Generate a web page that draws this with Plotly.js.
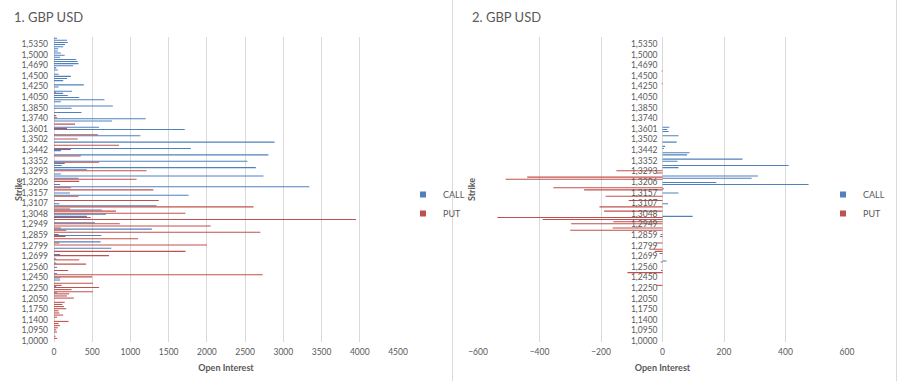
<!DOCTYPE html>
<html>
<head>
<meta charset="utf-8">
<script src="https://cdn.plot.ly/plotly-3.0.1.min.js"></script>
<style>html,body{margin:0;padding:0;background:#fff;}#chart{width:900px;height:381px;}</style>
</head>
<body>
<div id="chart"></div>
<script>
// Strike categories (bottom to top)
const strikes = [
'1,0000','1,0200','1,0400','1,0600','1,0800','1,0950',
'1,1050','1,1150','1,1250','1,1300','1,1400',
'1,1450','1,1500','1,1600','1,1700','1,1750',
'1,1800','1,1850','1,1900','1,2000','1,2050',
'1,2100','1,2150','1,2175','1,2200','1,2250',
'1,2300','1,2350','1,2400','1,2425','1,2450',
'1,2475','1,2500','1,2525','1,2550','1,2560',
'1,2600','1,2625','1,2650','1,2675','1,2699',
'1,2700','1,2725','1,2750','1,2775','1,2799',
'1,2800','1,2825','1,2840','1,2850','1,2859',
'1,2875','1,2900','1,2925','1,2940','1,2949',
'1,2950','1,2975','1,3000','1,3025','1,3048',
'1,3050','1,3060','1,3075','1,3100','1,3107',
'1,3125','1,3130','1,3140','1,3150','1,3157',
'1,3175','1,3180','1,3190','1,3200','1,3206',
'1,3225','1,3250','1,3260','1,3275','1,3293',
'1,3300','1,3310','1,3325','1,3350','1,3352',
'1,3375','1,3400','1,3410','1,3425','1,3442',
'1,3450','1,3460','1,3475','1,3500','1,3502',
'1,3525','1,3550','1,3575','1,3600','1,3601',
'1,3625','1,3650','1,3675','1,3700','1,3740',
'1,3750','1,3775','1,3800','1,3825','1,3850',
'1,3875','1,3900','1,3950','1,4000','1,4050',
'1,4075','1,4100','1,4150','1,4200','1,4250',
'1,4300','1,4350','1,4400','1,4450','1,4500',
'1,4550','1,4600','1,4625','1,4650','1,4690',
'1,4700','1,4750','1,4800','1,4900','1,5000',
'1,5050','1,5100','1,5150','1,5250','1,5350',
'1,5400','1,5500','1,6000'
];

// Strike labels shown on the axis
const strikeLabels = ['1,0000','1,0950','1,1400','1,1750','1,2050','1,2250','1,2450','1,2560','1,2699','1,2799','1,2859','1,2949','1,3048','1,3107','1,3157','1,3206','1,3293','1,3352','1,3442','1,3502','1,3601','1,3740','1,3850','1,4050','1,4250','1,4500','1,4690','1,5000','1,5350'];

// Chart 1: open interest
const call1 = [
0,0,0,0,0,0,0,0,0,0,
0,0,0,0,0,0,0,0,0,0,
0,0,0,40,0,0,30,0,0,80,
80,0,40,0,0,40,0,30,0,30,
0,80,0,0,750,0,0,610,0,0,
620,0,0,1280,0,0,535,0,0,430,
680,0,625,0,1340,70,0,0,0,1760,
210,0,0,3340,80,0,0,320,2740,90,
0,430,2640,100,140,2530,0,0,2805,0,
90,1790,0,0,2885,0,0,1130,0,0,
1710,590,0,0,760,1200,0,0,360,0,
230,770,0,90,660,330,180,120,235,0,
60,390,0,120,170,220,60,0,50,30,
250,320,310,290,80,140,90,50,55,120,
145,180,170,40
];
const put1 = [
0,40,20,0,40,30,50,80,60,190,
0,40,120,70,60,160,130,110,140,0,
260,170,200,510,230,590,100,510,0,0,
500,2730,0,185,0,0,420,0,330,0,
720,0,1720,0,0,2000,70,0,1100,150,
60,2700,160,90,2050,860,0,3950,480,0,
1720,810,210,2610,0,0,1370,0,320,0,
0,1300,220,0,0,330,1080,0,0,0,
1210,0,0,0,590,0,0,350,0,0,
220,0,850,0,0,310,0,575,0,0,
170,0,275,0,0,40,30,0,0,0,
0,0,0,0,0,0,0,25,0,0,
0,0,0,0,0,0,0,0,0,0,
0,0,0,0,0,0,0,0,0,0,
0,0,0,0
];

// Chart 2: change in open interest
const call2 = [
0,0,0,0,0,0,0,0,0,0,
0,0,0,0,0,0,0,0,0,0,
0,0,0,0,0,0,0,0,0,0,
0,0,0,0,0,0,0,0,13,0,
0,0,0,0,0,0,0,0,0,0,
0,0,0,0,0,0,0,0,0,98,
0,0,0,0,0,18,0,0,0,0,
52,0,5,0,475,175,0,290,310,0,
0,0,52,410,0,49,260,0,80,88,
0,5,8,0,46,0,0,52,0,20,
15,22,0,0,0,0,0,0,0,0,
0,0,0,0,0,0,0,0,0,0,
0,0,0,0,0,0,0,0,0,0,
0,0,0,0,0,0,0,0,0,0,
0,0,0,0
];
const put2 = [
0,0,0,0,0,0,0,0,0,0,
0,0,0,0,0,0,0,0,0,0,
0,0,0,0,0,0,-20,0,0,0,
0,0,-114,-5,0,0,0,-6,0,0,
0,-10,-25,-42,0,0,-23,0,0,-8,
-6,0,-300,-162,0,-297,-160,-390,-537,0,
0,-190,0,-205,0,0,-110,0,-185,0,
0,-255,-355,0,0,0,-510,-440,0,-20,
-150,0,0,0,0,0,0,0,0,0,
0,0,0,0,0,0,0,0,0,0,
0,0,0,0,0,0,0,0,0,0,
0,0,0,0,0,0,0,0,0,0,
0,-3,0,0,0,0,0,-3,0,0,
0,0,0,0,0,0,0,0,0,0,
0,0,0,0
];

const FONT = 'Lato, "Open Sans", sans-serif';
const TXT = '#595959';
const BLUE = '#4F81BD';
const RED = '#C0504D';
const GRID = '#d9d9d9';

function bar(x, name, color, xa, ya) {
  return {type:'bar', orientation:'h', x:x, y:strikes, name:name,
    xaxis:xa, yaxis:ya, showlegend:false,
    marker:{color:color, line:{color:color, width:0}}, hoverinfo:'x+y'};
}
// legend keys (small squares like the original legend)
function key(name, color, xa, ya, leg) {
  return {type:'scatter', mode:'markers', x:[null], y:[null], name:name,
    xaxis:xa, yaxis:ya, legend:leg, showlegend:true,
    marker:{symbol:'square', size:6, color:color}, hoverinfo:'skip'};
}

const data = [
  bar(call1,'CALL',BLUE,'x','y'),
  bar(put1,'PUT',RED,'x','y'),
  bar(call2,'CALL',BLUE,'x2','y2'),
  bar(put2,'PUT',RED,'x2','y2'),
  key('CALL',BLUE,'x','y','legend'),
  key('PUT',RED,'x','y','legend'),
  key('CALL',BLUE,'x2','y2','legend2'),
  key('PUT',RED,'x2','y2','legend2')
];

const yDom = [1-342.1/381, 1-36.6/381];
const tickF = {family:FONT, size:8.5, color:TXT};
const axTitleF = {family:FONT, size:9, color:TXT};

const layout = {
  width:900, height:381,
  margin:{l:0,r:0,t:0,b:0},
  paper_bgcolor:'#fff', plot_bgcolor:'rgba(0,0,0,0)',
  font:{family:FONT, color:TXT},
  barmode:'group', bargap:0.0001, bargroupgap:0,
  xaxis:{domain:[54/900, 398/900], anchor:'y', range:[0,4500], dtick:500, tick0:0,
    showgrid:true, gridcolor:GRID, gridwidth:1, zeroline:true, zerolinecolor:GRID, zerolinewidth:1,
    showline:false, ticks:'', tickfont:tickF, ticklabelstandoff:3, automargin:false, fixedrange:true,
    title:{text:'<b>Open Interest</b>', font:axTitleF, standoff:9}},
  yaxis:{domain:yDom, anchor:'x', type:'category', categoryorder:'array', categoryarray:strikes,
    range:[-0.5,143.5], tickmode:'array', tickvals:strikeLabels, ticktext:strikeLabels,
    showgrid:false, zeroline:false, showline:false, ticks:'', tickfont:tickF, ticklabelstandoff:5,
    automargin:false, fixedrange:true},
  xaxis2:{domain:[478/900, 847/900], anchor:'y2', range:[-600,600], dtick:200, tick0:0,
    showgrid:true, gridcolor:GRID, gridwidth:1, zeroline:true, zerolinecolor:GRID, zerolinewidth:1,
    showline:false, ticks:'', tickfont:tickF, ticklabelstandoff:3, automargin:false, fixedrange:true,
    title:{text:'<b>Open Interest</b>', font:axTitleF, standoff:9}},
  yaxis2:{domain:yDom, anchor:'free', position:662.5/900, side:'left', type:'category',
    categoryorder:'array', categoryarray:strikes, range:[-0.5,143.5],
    tickmode:'array', tickvals:strikeLabels, ticktext:strikeLabels,
    showgrid:false, zeroline:false, showline:false, ticks:'', tickfont:tickF, ticklabelstandoff:5,
    automargin:false, fixedrange:true},
  legend:{x:403/900, y:1-180/381, xanchor:'left', yanchor:'top', traceorder:'normal',
    bgcolor:'rgba(0,0,0,0)', font:{family:FONT, size:9, color:TXT}, tracegroupgap:0},
  legend2:{x:823/900, y:1-180/381, xanchor:'left', yanchor:'top', traceorder:'normal',
    bgcolor:'rgba(0,0,0,0)', font:{family:FONT, size:9, color:TXT}, tracegroupgap:0},
  annotations:[
    {text:'1. GBP USD', xref:'paper', yref:'paper', x:12/900, y:1-17/381, xanchor:'left', yanchor:'middle',
      showarrow:false, font:{family:FONT, size:13, color:TXT}},
    {text:'2. GBP USD', xref:'paper', yref:'paper', x:470/900, y:1-17/381, xanchor:'left', yanchor:'middle',
      showarrow:false, font:{family:FONT, size:13, color:TXT}},
    {text:'<b>Strike</b>', xref:'paper', yref:'paper', x:18/900, y:1-190/381, xanchor:'center', yanchor:'middle',
      textangle:-90, showarrow:false, font:{family:FONT, size:9, color:TXT}},
    {text:'<b>Strike</b>', xref:'paper', yref:'paper', x:471/900, y:1-190/381, xanchor:'center', yanchor:'middle',
      textangle:-90, showarrow:false, font:{family:FONT, size:9, color:TXT}}
  ],
  shapes:[
    {type:'line', xref:'paper', yref:'paper', x0:452.5/900, x1:452.5/900, y0:0, y1:1, line:{color:GRID, width:1}},
    {type:'line', xref:'paper', yref:'paper', x0:896.5/900, x1:896.5/900, y0:0, y1:1, line:{color:GRID, width:1}}
  ]
};

Plotly.newPlot('chart', data, layout, {displayModeBar:false, staticPlot:true});
</script>
</body>
</html>
